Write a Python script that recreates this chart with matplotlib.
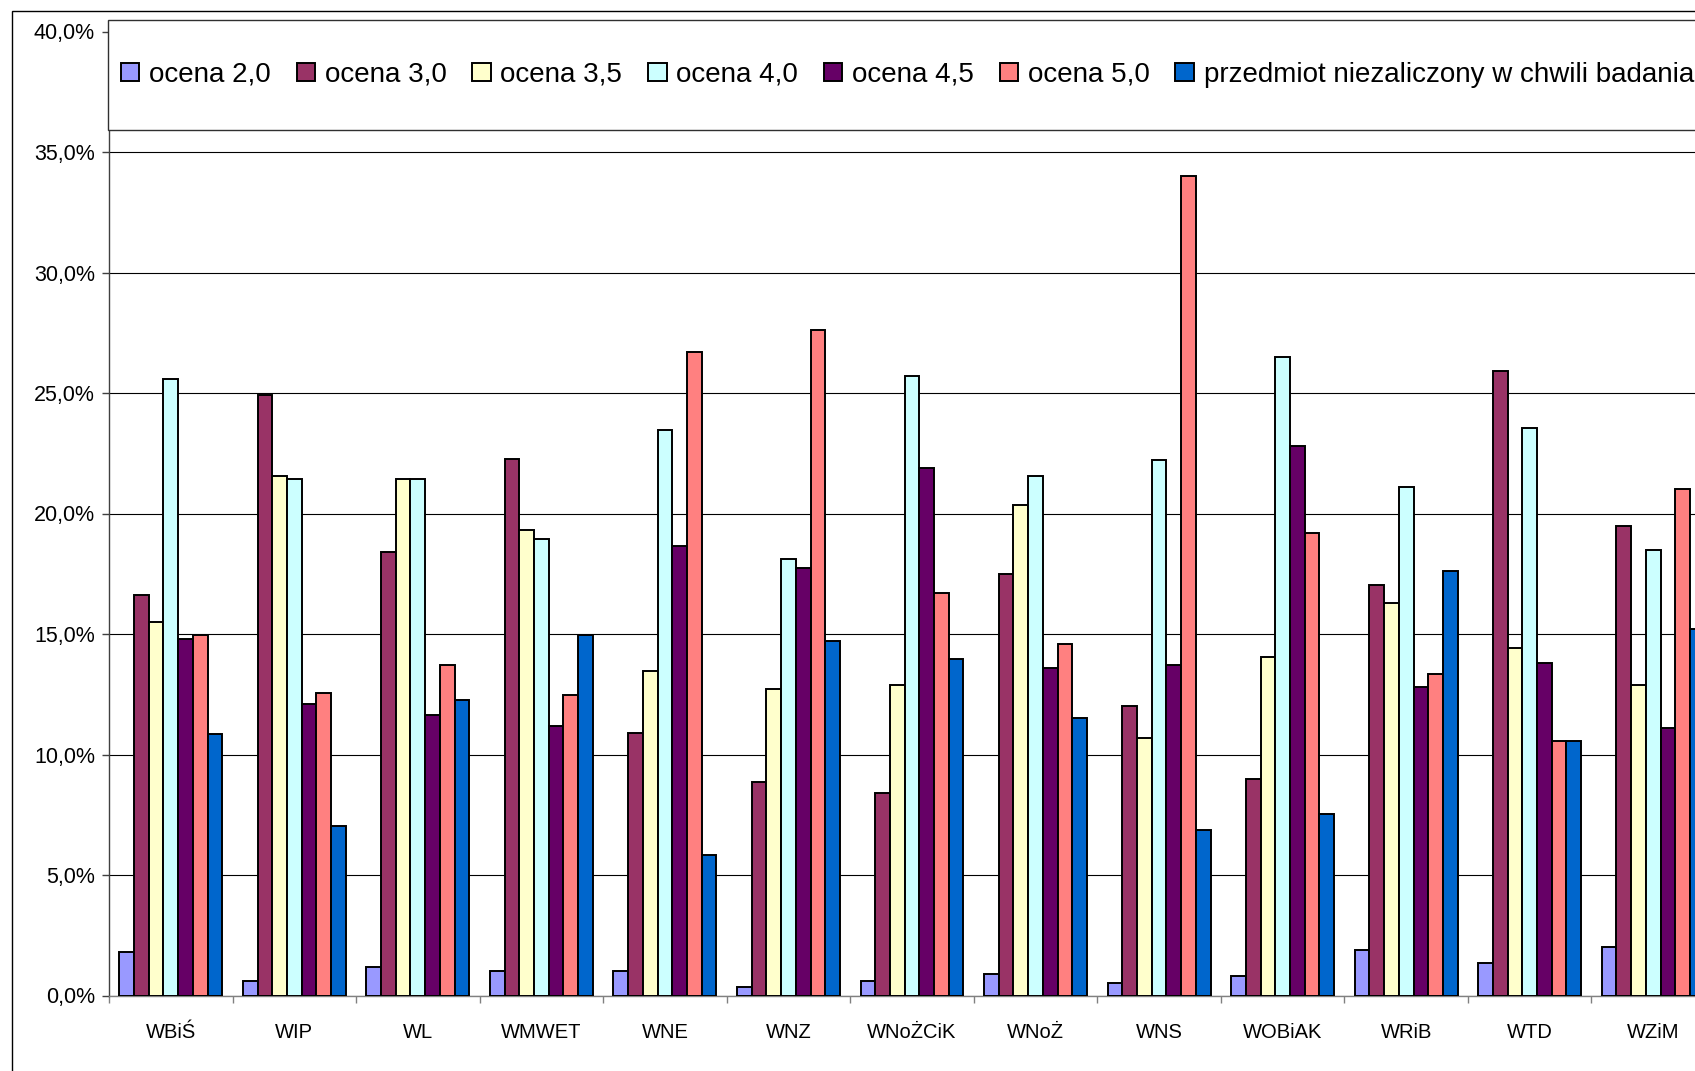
import matplotlib
matplotlib.use("Agg")
import matplotlib.pyplot as plt
import numpy as np
from matplotlib.patches import Rectangle, Patch

plt.rcParams['font.family'] = ['Liberation Sans', 'DejaVu Sans']

# wydzialy
categories = ["WBiŚ", "WIP", "WL", "WMWET", "WNE", "WNZ", "WNoŻCiK",
              "WNoŻ", "WNS", "WOBiAK", "WRiB", "WTD", "WZiM"]

series_names = ["ocena 2,0", "ocena 3,0", "ocena 3,5", "ocena 4,0",
                "ocena 4,5", "ocena 5,0", "przedmiot niezaliczony w chwili badania"]

ocena_20 = [1.8, 0.6, 1.2, 1.0, 1.0, 0.35, 0.6, 0.9, 0.5, 0.8, 1.9, 1.35, 2.0]
ocena_30 = [16.6, 24.9, 18.4, 22.25, 10.9, 8.85, 8.4, 17.5, 12.0, 9.0, 17.05, 25.9, 19.5]
ocena_35 = [15.5, 21.55, 21.45, 19.3, 13.45, 12.7, 12.9, 20.35, 10.7, 14.05, 16.3, 14.4, 12.9]
ocena_40 = [25.6, 21.45, 21.45, 18.95, 23.45, 18.1, 25.7, 21.55, 22.2, 26.5, 21.1, 23.55, 18.5]
ocena_45 = [14.8, 12.1, 11.65, 11.2, 18.65, 17.75, 21.9, 13.6, 13.7, 22.8, 12.8, 13.8, 11.1]
ocena_50 = [14.95, 12.55, 13.7, 12.45, 26.7, 27.6, 16.7, 14.6, 34.0, 19.2, 13.35, 10.55, 21.0]
niezal = [10.85, 7.05, 12.25, 14.95, 5.85, 14.7, 13.95, 11.5, 6.85, 7.55, 17.6, 10.55, 15.2]

values = [ocena_20, ocena_30, ocena_35, ocena_40, ocena_45, ocena_50, niezal]
colors = ["#9999FF", "#993366", "#FFFFCC", "#CCFFFF", "#660066", "#FF8080", "#0066CC"]

y_ticks = [0, 5, 10, 15, 20, 25, 30, 35, 40]

W, H = 1695, 1071
fig = plt.figure(figsize=(W / 100, H / 100), dpi=100)

# plot area runs past the right edge, like the cropped original
ax_left, ax_right = 109, 1715
ax_top, ax_bottom = 31.5, 995.5
ax = fig.add_axes([ax_left / W, 1 - ax_bottom / H,
                   (ax_right - ax_left) / W, (ax_bottom - ax_top) / H])

n = len(categories)
x = np.arange(n) + 0.5
bw = 0.119
for k, (vals, col, name) in enumerate(zip(values, colors, series_names)):
    ax.bar(x + (k - 3) * bw, vals, width=bw, color=col, edgecolor="black",
           linewidth=1.4, label=name, zorder=3)

ax.set_xlim(0, n)
ax.set_ylim(0, 40)
ax.set_yticks(y_ticks)
ax.set_yticklabels([("%.1f%%" % v).replace(".", ",") for v in y_ticks], fontsize=15.5)
ax.tick_params(axis="y", direction="out", length=5, width=1, pad=5, color="#404040")

ax.set_xticks(np.arange(n + 1))
ax.set_xticklabels([])
ax.tick_params(axis="x", which="major", direction="out", length=5, width=1, color="#808080")
ax.set_xticks(x, minor=True)
ax.set_xticklabels(categories, minor=True, fontsize=14.5)
ax.tick_params(axis="x", which="minor", length=0, pad=20)

ax.yaxis.grid(True, color="black", linewidth=0.8)
ax.set_axisbelow(True)
for s in ["top", "right"]:
    ax.spines[s].set_visible(False)
ax.spines["left"].set_color("#404040")
ax.spines["bottom"].set_color("#808080")
ax.spines["left"].set_linewidth(1)
ax.spines["bottom"].set_linewidth(1)

# outer chart border
fig.patches.append(Rectangle((12 / W, -0.1), 2, 1.1 - 11 / H, transform=fig.transFigure,
                             fill=False, edgecolor="black", linewidth=1, zorder=1))

# legend box
leg_top, leg_bot = 19.5, 130
fig.patches.append(Rectangle((108 / W, 1 - leg_bot / H), 2, (leg_bot - leg_top) / H,
                             transform=fig.transFigure, facecolor="white",
                             edgecolor="#303030", linewidth=1, zorder=2))
handles = [Patch(facecolor=c, edgecolor="black", linewidth=1.4) for c in colors]
leg = fig.legend(handles, series_names, loc="center left",
                 bbox_to_anchor=(121 / W, 1 - (leg_top + leg_bot) / 2 / H),
                 ncol=7, frameon=False, fontsize=20, borderpad=0, borderaxespad=0,
                 handlelength=0.66, handleheight=0.66, handletextpad=0.35,
                 columnspacing=0.93)
leg.set_zorder(5)

fig.savefig("out.png", dpi=100)
